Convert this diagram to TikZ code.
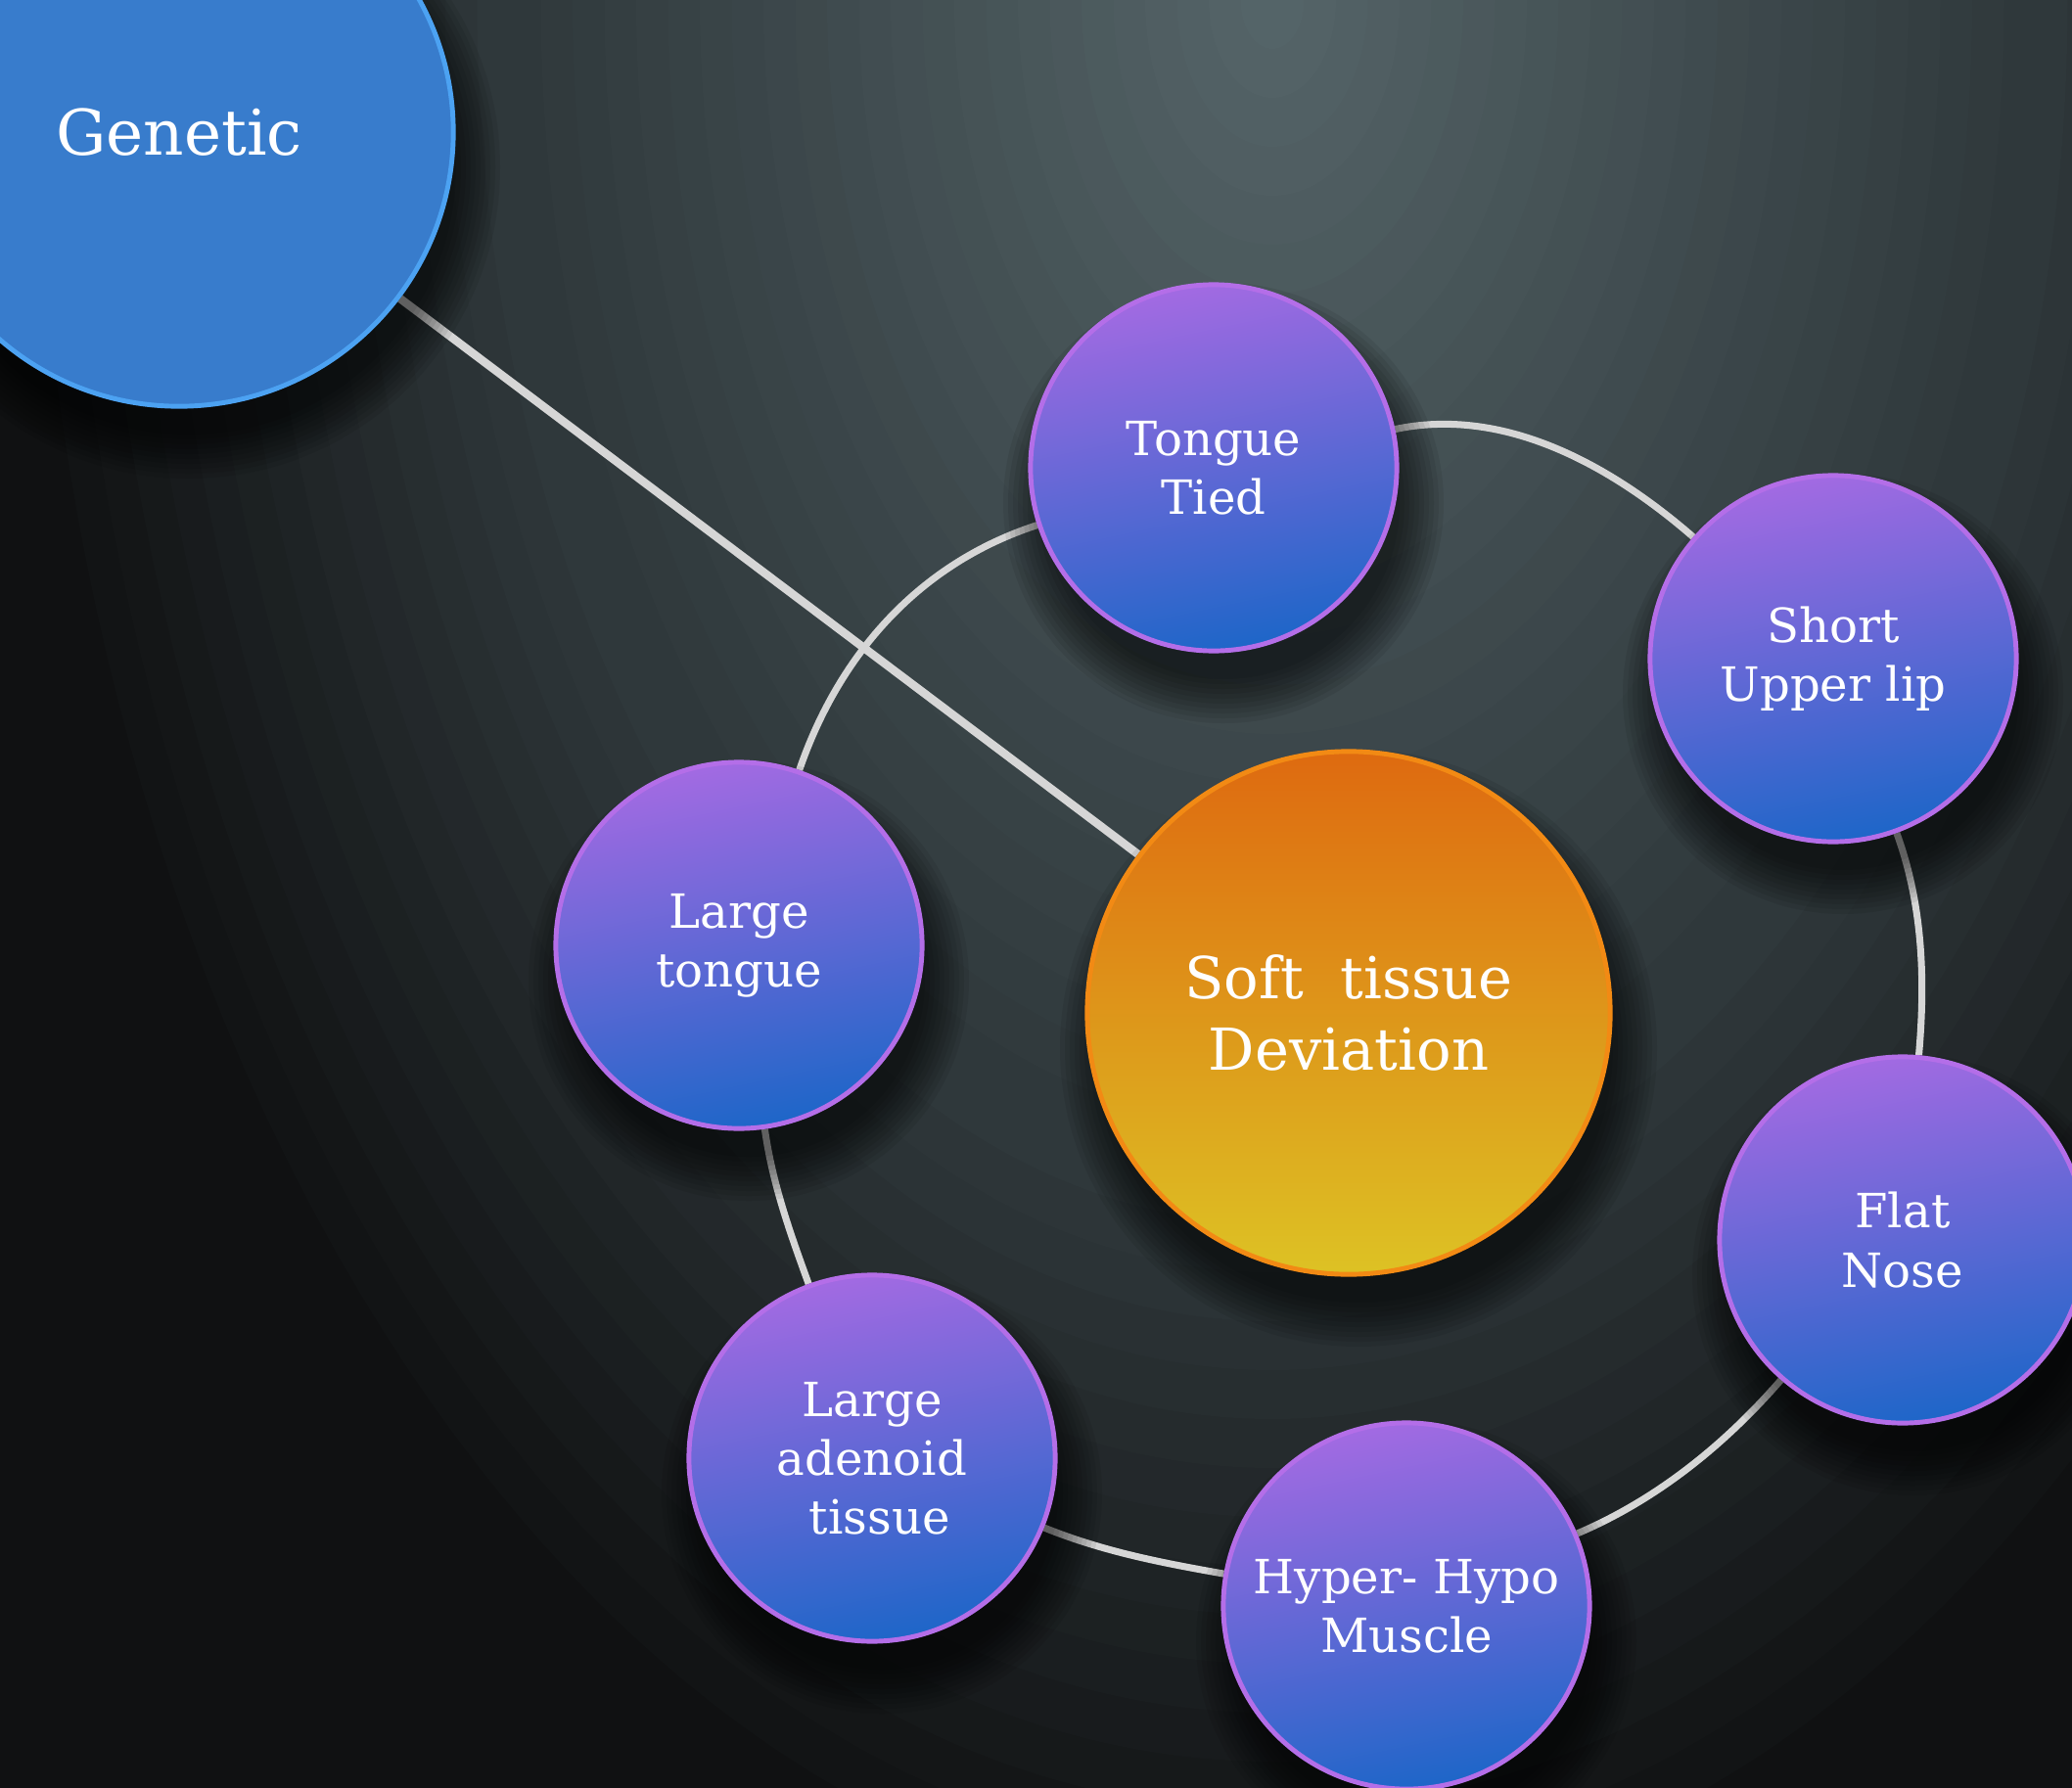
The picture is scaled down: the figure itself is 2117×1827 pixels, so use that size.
\documentclass[tikz,border=0pt]{standalone}
\usepackage{fontspec}
\setmainfont{DejaVu Serif}

\definecolor{bgtop}{RGB}{86,102,106}
\definecolor{bgmid}{RGB}{47,56,59}
\definecolor{bgdark}{RGB}{16,17,18}
\definecolor{wire}{RGB}{214,214,214}
\definecolor{causetop}{RGB}{162,106,226}
\definecolor{causebot}{RGB}{30,102,200}
\definecolor{causeline}{RGB}{180,110,232}
\definecolor{coretop}{RGB}{222,106,16}
\definecolor{corebot}{RGB}{221,194,36}
\definecolor{coreline}{RGB}{242,138,20}
\definecolor{rootfill}{RGB}{56,124,204}
\definecolor{rootline}{RGB}{76,162,242}

\pgfdeclarelayer{bg}
\pgfdeclarelayer{edges}
\pgfdeclarelayer{shadow}
\pgfsetlayers{bg,edges,shadow,main}

\tikzset{
x=0.01cm, y=0.01cm, % one unit is one pixel of the layout
bubble/.style={circle, inner sep=0pt, text=white, align=center}, % shared look of every circle
cause/.style={bubble, minimum size=3.74cm, line width=1.4pt, draw=causeline,
  top color=causetop, bottom color=causebot, shading angle=12,
  font=\fontsize{13.7pt}{17.1pt}\selectfont}, % the six purple circles
core/.style={bubble, minimum size=5.34cm, line width=1.4pt, draw=coreline,
  top color=coretop, bottom color=corebot,
  font=\fontsize{16.8pt}{21pt}\selectfont}, % the orange centre
root/.style={bubble, minimum size=5.6cm, line width=1.4pt, draw=rootline, fill=rootfill,
  font=\fontsize{18.3pt}{22pt}\selectfont}, % the big blue one
ring/.style={draw=wire, line width=2pt}, % the loop round the centre
link/.style={line width=2.4pt}, % the long straight line
}

\begin{document}
\begin{tikzpicture}
            \useasboundingbox (0,0) rectangle (2117,-1827);
            \begin{pgfonlayer}{bg}
                \clip (0,0) rectangle (2117,-1827);
                \fill[bgdark] (0,0) rectangle (2117,-1827);
                % glow from the top, dark at the rim
                \foreach \i in {40,...,25} {
                    \pgfmathsetmacro\p{(40-\i)/15*100}
                    \fill[bgmid!\p!bgdark] (1300,0) ellipse [x radius=32.5*\i, y radius=50*\i];
                }
                \foreach \i in {24,...,1} {
                    \pgfmathsetmacro\p{(24-\i)/24*100}
                    \fill[bgtop!\p!bgmid] (1300,0) ellipse [x radius=32.5*\i, y radius=50*\i];
                }
            \end{pgfonlayer}

            \node[root] (gen) at (183,-135) {Genetic};
            \node[cause] (tt) at (1240,-478) {Tongue\\Tied};
            \node[cause] (sul) at (1873,-673) {Short~\\Upper lip};
            \node[cause] (lt) at (755,-966) {Large\\tongue};
            \node[core] (soft) at (1378,-1035) {Soft~~tissue\\Deviation};
            \node[cause] (fn) at (1944,-1267) {Flat\\Nose};
            \node[cause] (la) at (891,-1490) {Large\\adenoid\\~tissue};
            \node[cause] (hh) at (1437,-1641) {Hyper- Hypo\\Muscle};

            % soft dark shadows under the circles
            \begin{pgfonlayer}{shadow}
                \foreach \n/\r in {gen/280, tt/187, sul/187, lt/187, soft/267, fn/187, la/187, hh/187}
                    \foreach \k in {1,...,10}
                        \fill[black, opacity=0.075] ([xshift=0.1cm, yshift=-0.36cm]\n.center) circle [radius=\r-12+5*\k];
            \end{pgfonlayer}

            \begin{pgfonlayer}{edges}
            \draw[ring]
                (tt) edge[out=12, in=139, out distance=1.13cm, in distance=1.13cm] (sul)
                (sul) edge[out=-70, in=85, out distance=0.78cm, in distance=0.78cm] (fn)
                (fn) edge[out=-131, in=23, out distance=0.88cm, in distance=0.88cm] (hh)
                (hh) edge[out=170, in=-22, out distance=0.65cm, in distance=0.65cm] (la)
                (la) edge[out=110, in=-82, out distance=0.56cm, in distance=0.56cm] (lt)
                (lt) edge[out=71, in=-162, out distance=1.26cm, in distance=1.26cm] (tt)

                (gen) edge[link] (soft)
                ;
            \end{pgfonlayer}
            \end{tikzpicture}
\end{document}
